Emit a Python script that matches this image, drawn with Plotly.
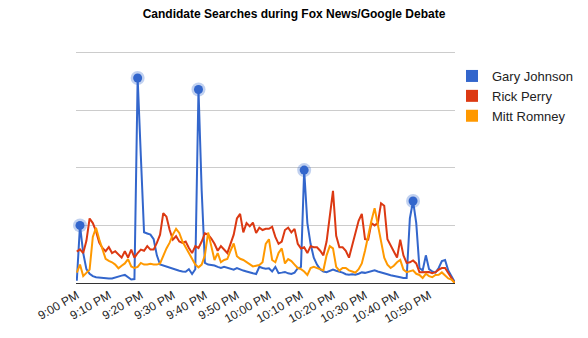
import plotly.graph_objects as go

# minutes after 9:00 PM (one sample per minute)
minutes = list(range(119))

tick_minutes = [0, 10, 20, 30, 40, 50, 60, 70, 80, 90, 100, 110]
tick_labels = ["9:00 PM", "9:10 PM", "9:20 PM", "9:30 PM", "9:40 PM", "9:50 PM",
               "10:00 PM", "10:10 PM", "10:20 PM", "10:30 PM", "10:40 PM", "10:50 PM"]

gary_johnson = [
    1, 25, 13, 6, 4, 3, 2.5, 2.3, 2.2, 2,
    2, 2, 2.5, 2.8, 3.2, 3.5, 2.5, 1.5, 1.7, 89,
    55, 22, 21.5, 21, 19, 12, 8, 7.5, 7, 6.8,
    6.2, 5.8, 5.3, 5, 4.9, 6, 3.9, 6, 84, 40,
    8.7, 8, 7.8, 7.6, 7, 6.5, 7, 6.5, 6, 5.8,
    6.5, 5.8, 5.4, 5, 4.5, 4.2, 3.9, 7, 6.5, 6.2,
    6.4, 5, 7, 4.3, 4.5, 4.8, 4.2, 3.9, 4.5, 6.4,
    7, 49, 26, 17, 11, 8, 6, 5, 4.7, 5.3,
    5.8, 5.3, 5, 4.5, 3.8, 3.6, 3.8, 3.6, 4, 4.6,
    4.4, 4.8, 5.3, 5.5, 5, 4.5, 4.3, 3.8, 3.4, 3,
    2.8, 2.5, 2.2, 2.2, 28, 35.6, 26, 6.5, 5.4, 12,
    6, 5, 4.5, 6.5, 9.5, 10, 5.4, 3, 0.5,
]

rick_perry = [
    13.6, 14.6, 13, 18.3, 28, 26, 22.5, 17.5, 15.2, 13.8,
    15.6, 13, 13.8, 12.5, 11, 13.8, 11, 14.5, 11, 13,
    14.5, 14, 16, 14.5, 14.5, 17.4, 21, 30.3, 28.8, 23,
    18.8, 20.3, 18, 17.4, 18, 15.2, 13, 16, 15.2, 18,
    21.6, 21, 19.3, 17, 14, 16, 14.5, 13, 17, 21,
    28, 30, 22, 26, 24.6, 26.2, 21.7, 24, 23, 23.5,
    23.5, 24.4, 20, 17, 18, 23, 24, 22, 23.5, 17,
    15, 15.5, 13, 16, 15.5, 15.5, 14, 12, 18, 30,
    40, 20.5, 15.5, 15.5, 14, 11, 16, 22, 27, 30,
    19, 18.8, 26, 25, 26, 34.6, 33.5, 19, 16.4, 14,
    11, 18.8, 12, 8.7, 9, 9.8, 8.5, 4.7, 4.7, 5,
    4.8, 4.3, 4.7, 5.8, 6.5, 6.5, 4.3, 2.5, 0,
]

mitt_romney = [
    4.5, 8, 3, 4.5, 5.8, 20, 24, 19, 14.5, 10.5,
    9.6, 9, 8, 6.4, 7.5, 8.5, 10.4, 7.2, 6.5, 7,
    8.7, 8, 8, 8.3, 8, 8, 8.5, 12, 15, 17.5,
    21, 23.5, 21.7, 18, 15.5, 13, 10.5, 8, 6.8, 8,
    12, 21.9, 16, 10, 13, 9, 10, 10.4, 14, 17.2,
    11.6, 10.5, 10, 9, 7.8, 7.2, 7.5, 7.8, 9, 17,
    19, 10, 9, 13, 15, 8.5, 10.4, 9.5, 8, 6.5,
    6, 5, 3.5, 6.5, 7, 6.5, 6, 5.5, 12, 16,
    15, 7, 5.4, 6.5, 6.5, 5.5, 5, 4.5, 6, 8.5,
    14, 21, 27, 32.5, 25, 17.5, 11, 8, 6.5, 7.5,
    9, 10, 5.8, 4.7, 5, 5.5, 4, 3.5, 2.2, 4,
    3, 2.5, 3.5, 3.6, 4.6, 3.2, 2, 1.5, 0,
]

# annotated peaks of the Gary Johnson series
highlight_minutes = [1, 19, 38, 71, 105]

series = [
    ("Gary Johnson", gary_johnson, "#3366cc"),
    ("Rick Perry", rick_perry, "#dc3912"),
    ("Mitt Romney", mitt_romney, "#ff9900"),
]

FONT = "Arial, Liberation Sans, sans-serif"

fig = go.Figure()
for name, vals, color in series:
    fig.add_trace(go.Scatter(x=minutes, y=vals, mode="lines", name=name,
                             line=dict(color=color, width=2), showlegend=False))

hx = highlight_minutes
hy = [gary_johnson[m] for m in hx]
fig.add_trace(go.Scatter(x=hx, y=hy, mode="markers", showlegend=False,
                         marker=dict(size=14, color="rgba(51,102,204,0.3)"),
                         cliponaxis=False))
fig.add_trace(go.Scatter(x=hx, y=hy, mode="markers", showlegend=False,
                         marker=dict(size=9, color="#3366cc"), cliponaxis=False))

# legend entries (square swatches)
for name, vals, color in series:
    fig.add_trace(go.Scatter(x=[None], y=[None], mode="markers", name=name,
                             marker=dict(symbol="square", size=12, color=color)))

fig.update_layout(
    width=588, height=338,
    margin=dict(l=76, r=133, t=48, b=55, autoexpand=False),
    paper_bgcolor="white", plot_bgcolor="white",
    font=dict(family=FONT, size=13, color="#222222"),
    title=dict(text="<b>Candidate Searches during Fox News/Google Debate</b>",
               font=dict(family=FONT, size=12, color="#000000"),
               x=0.5, xanchor="center", xref="container",
               y=1 - 14 / 338, yanchor="middle", yref="container"),
    xaxis=dict(range=[-0.25, 118.1], tickmode="array", tickvals=tick_minutes,
               ticktext=tick_labels, tickangle=-30, showgrid=False, zeroline=False,
               showline=True, linecolor="#333333", linewidth=1, ticks="",
               automargin=False, tickfont=dict(size=12, color="#222222")),
    yaxis=dict(range=[0, 102], tickmode="array", tickvals=[0, 25, 50, 75, 100],
               showticklabels=False, showgrid=True, gridcolor="#cccccc",
               gridwidth=1, zeroline=False, ticks="", automargin=False),
    legend=dict(x=(452 - 76) / 379, y=1 - 13 / 235,
                xanchor="left", yanchor="top", font=dict(size=13, color="#222222"),
                bgcolor="rgba(0,0,0,0)"),
    showlegend=True,
)

fig.write_html("out.html")
